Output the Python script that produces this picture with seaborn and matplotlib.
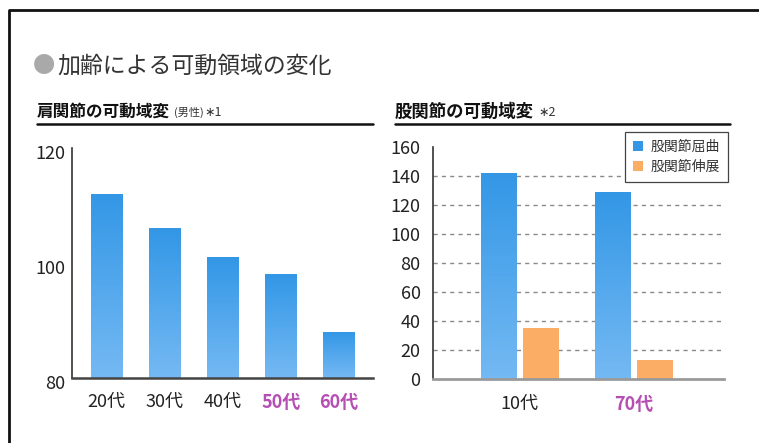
import numpy as np
import pandas as pd
import matplotlib.pyplot as plt
import matplotlib.transforms as mtransforms
from matplotlib.colors import LinearSegmentedColormap
from matplotlib.lines import Line2D
import seaborn as sns

# ---- data ----
shoulder_ages = ['20代', '30代', '40代', '50代', '60代']
shoulder_rom = [112, 106, 101, 98, 88]

hip_ages = ['10代', '70代']
hip_kinds = ['股関節屈曲', '股関節伸展']
hip_flexion = [142, 129]
hip_extension = [35, 13]

highlight = ['50代', '60代', '70代']

BLUE_TOP = '#3397e6'
BLUE_BOTTOM = '#74b9f3'
ORANGE = '#fbad66'
PURPLE = '#b64fb4'

sns.set_style('white')
plt.rcParams['font.family'] = ['Noto Sans CJK JP', 'DejaVu Sans']

W, H = 759, 443
fig = plt.figure(figsize=(W / 100, H / 100), dpi=100)


def px_axes(x0, y_top, x1, y_bot):
    return fig.add_axes([x0 / W, 1 - y_bot / H, (x1 - x0) / W, (y_bot - y_top) / H])


blue_grad = LinearSegmentedColormap.from_list('blue_grad', [BLUE_BOTTOM, BLUE_TOP])


def gradient_bars(ax, bars):
    xl, yl = ax.get_xlim(), ax.get_ylim()
    for p in bars:
        x0, w = p.get_x(), p.get_width()
        top = p.get_y() + p.get_height()
        bottom = max(p.get_y(), yl[0])
        im = ax.imshow(np.linspace(0, 1, 64).reshape(-1, 1),
                       extent=[x0, x0 + w, bottom, top], origin='lower',
                       cmap=blue_grad, aspect='auto', zorder=p.get_zorder() + 0.1)
        im.set_clip_path(p)
    ax.set_xlim(xl)
    ax.set_ylim(yl)


def style_xlabels(ax):
    for lbl in ax.get_xticklabels():
        if lbl.get_text() in highlight:
            lbl.set_color(PURPLE)
            lbl.set_fontweight('bold')
        else:
            lbl.set_color('#222222')


# ---- left: shoulder ----
ax1 = px_axes(72, 148, 373, 378)
sns.barplot(x=shoulder_ages, y=shoulder_rom, color=BLUE_TOP, width=0.55,
            saturation=1, linewidth=0, ax=ax1)
ax1.set_ylim(80, 120)
ax1.set_xlim(-0.6, 4.59)
ax1.set_yticks([80, 100, 120])
gradient_bars(ax1, ax1.containers[0])
ax1.tick_params(axis='y', length=0, pad=5, labelsize=13, labelcolor='#222222')
ax1.tick_params(axis='x', length=0, pad=11, labelsize=13)
for s in ['top', 'right']:
    ax1.spines[s].set_visible(False)
ax1.spines['left'].set_color('#333333')
ax1.spines['left'].set_linewidth(1.2)
ax1.spines['bottom'].set_color('#444444')
ax1.spines['bottom'].set_linewidth(1.8)
style_xlabels(ax1)
for lbl in ax1.get_yticklabels():
    lbl.set_transform(lbl.get_transform()
                      + mtransforms.ScaledTranslation(0, -0.04, fig.dpi_scale_trans))

# ---- right: hip ----
hip_df = pd.DataFrame({
    'age': hip_ages * 2,
    'kind': [hip_kinds[0]] * len(hip_ages) + [hip_kinds[1]] * len(hip_ages),
    'value': hip_flexion + hip_extension,
})
ax2 = px_axes(433, 146.5, 724, 379.3)
sns.barplot(data=hip_df, x='age', y='value', hue='kind',
            palette=[BLUE_TOP, ORANGE], width=0.746, gap=0.166,
            saturation=1, linewidth=0, ax=ax2)
ax2.set_ylim(0, 160)
ax2.set_xlim(-0.76, 1.79)
ax2.set_yticks(range(0, 161, 20))
for yv in range(20, 141, 20):
    ax2.axhline(yv, color='#8a8a8a', lw=1, ls=(0, (3, 3)), zorder=0)
gradient_bars(ax2, ax2.containers[0])
ax2.tick_params(axis='y', length=0, pad=9, labelsize=13, labelcolor='#222222')
ax2.tick_params(axis='x', length=0, pad=11, labelsize=13)
for s in ['top', 'right']:
    ax2.spines[s].set_visible(False)
ax2.spines['left'].set_color('#333333')
ax2.spines['left'].set_linewidth(1.2)
ax2.spines['bottom'].set_color('#9a9a9a')
ax2.spines['bottom'].set_linewidth(2)
ax2.set_xlabel('')
ax2.set_ylabel('')
style_xlabels(ax2)

handles, labels = ax2.get_legend_handles_labels()
leg = ax2.legend(handles, labels, loc='upper right',
                 bbox_to_anchor=(728 / W, 1 - 132 / H), bbox_transform=fig.transFigure,
                 frameon=True, fancybox=False, edgecolor='#444444', framealpha=1,
                 fontsize=10, handlelength=0.75, handleheight=0.75, handletextpad=0.55,
                 labelspacing=0.45, borderpad=0.55, borderaxespad=0)
leg.get_frame().set_linewidth(0.9)
for t in leg.get_texts():
    t.set_color('#333333')

# ---- headings ----
fig.text(33 / W, 1 - 66 / H, '●', color='#a9a9a9', fontsize=16, va='center')
fig.text(57 / W, 1 - 66 / H, '加齢による可動領域の変化', color='#333333',
         fontsize=16.5, va='center')

fig.text(37 / W, 1 - 112 / H, '肩関節の可動域変', fontsize=12, fontweight='bold',
         color='#111111', va='center')
fig.text(174 / W, 1 - 112 / H, '(男性)', fontsize=8, color='#333333', va='center')
fig.text(204 / W, 1 - 112 / H, '∗1', fontsize=9, color='#333333', va='center')

fig.text(395 / W, 1 - 112 / H, '股関節の可動域変', fontsize=12.5, fontweight='bold',
         color='#111111', va='center')
fig.text(538 / W, 1 - 112 / H, '∗2', fontsize=9, color='#333333', va='center')

for x0, x1 in [(37, 373), (395, 730)]:
    fig.add_artist(Line2D([x0 / W, x1 / W], [1 - 124 / H] * 2,
                          transform=fig.transFigure, color='#111111', lw=1.8))

# outer frame: top and left edges only
fig.add_artist(Line2D([9 / W, 9 / W, 1], [0, 1 - 10 / H, 1 - 10 / H],
                      transform=fig.transFigure, color='#111111', lw=2))

fig.savefig('out.png', dpi=100)
